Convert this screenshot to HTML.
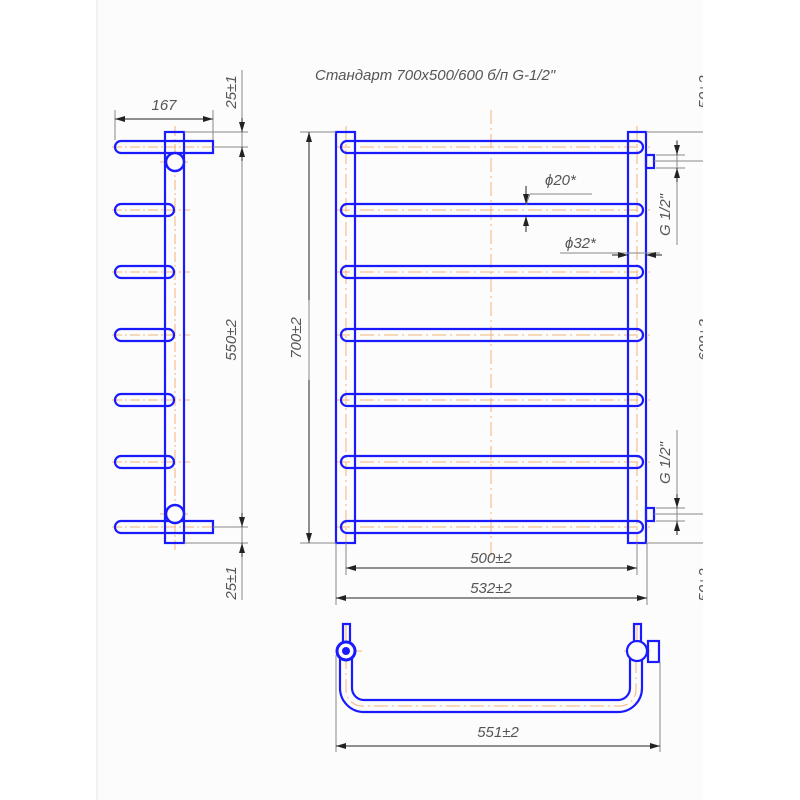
<!DOCTYPE html>
<html><head><meta charset="utf-8"><style>
html,body{margin:0;padding:0;background:#fff;}
svg{display:block;}
text{font-family:"Liberation Sans","DejaVu Sans",sans-serif;font-style:italic;fill:#555;}
</style></head><body>
<svg width="800" height="800" viewBox="0 0 800 800" xmlns="http://www.w3.org/2000/svg">
<rect x="0" y="0" width="800" height="800" fill="#fff"/>
<rect x="97" y="0" width="606" height="800" fill="#fcfcfc"/>
<line x1="97" y1="0" x2="97" y2="800" stroke="#e6e6e6" stroke-width="1"/>
<defs>
<marker id="a" viewBox="0 0 10 6" refX="10" refY="3" markerWidth="10" markerHeight="6" orient="auto-start-reverse" markerUnits="userSpaceOnUse"><path d="M0,0 L10,3 L0,6 Z" fill="#222"/></marker>
</defs>

<text x="315" y="80" font-size="15">Стандарт 700х500/600 б/п  G-1/2"</text>

<!-- LEFT VIEW -->
<g stroke="#f5b37a" stroke-width="1" stroke-dasharray="10,3,2,3" fill="none">
<line x1="175" y1="126" x2="175" y2="552"/>
<line x1="112" y1="147" x2="215" y2="147"/>
<line x1="112" y1="210" x2="190" y2="210"/>
<line x1="112" y1="272" x2="190" y2="272"/>
<line x1="112" y1="335" x2="190" y2="335"/>
<line x1="112" y1="400" x2="190" y2="400"/>
<line x1="112" y1="462" x2="190" y2="462"/>
<line x1="112" y1="527" x2="215" y2="527"/>
<line x1="160" y1="162" x2="190" y2="162"/>
<line x1="160" y1="514" x2="190" y2="514"/>
</g>
<g stroke="#1a1aff" stroke-width="2.2" fill="none">
<rect x="165" y="132" width="19" height="411"/>
<path d="M213,141 H121 a6,6 0 0 0 0,12 H213 Z"/>
<path d="M213,521 H121 a6,6 0 0 0 0,12 H213 Z"/>
<path d="M168,204 H121 a6,6 0 0 0 0,12 H168 a6,6 0 0 0 0,-12"/>
<path d="M168,266 H121 a6,6 0 0 0 0,12 H168 a6,6 0 0 0 0,-12"/>
<path d="M168,329 H121 a6,6 0 0 0 0,12 H168 a6,6 0 0 0 0,-12"/>
<path d="M168,394 H121 a6,6 0 0 0 0,12 H168 a6,6 0 0 0 0,-12"/>
<path d="M168,456 H121 a6,6 0 0 0 0,12 H168 a6,6 0 0 0 0,-12"/>
<circle cx="175" cy="162" r="9" stroke-width="2.5" fill="#fcfcfc"/>
<circle cx="175" cy="514" r="9" stroke-width="2.5" fill="#fcfcfc"/>
</g>
<g stroke="#888" stroke-width="1" fill="none">
<line x1="115" y1="110" x2="115" y2="140"/>
<line x1="213" y1="110" x2="213" y2="140"/>
<line x1="184" y1="132" x2="248" y2="132"/>
<line x1="213" y1="147" x2="248" y2="147"/>
<line x1="213" y1="527" x2="248" y2="527"/>
<line x1="184" y1="543" x2="248" y2="543"/>
<line x1="242" y1="70" x2="242" y2="600"/>
</g>
<g stroke="#222" stroke-width="1">
<line x1="115" y1="119" x2="213" y2="119" marker-start="url(#a)" marker-end="url(#a)"/>
<line x1="242" y1="118" x2="242" y2="132" marker-end="url(#a)"/>
<line x1="242" y1="161" x2="242" y2="147" marker-end="url(#a)"/>
<line x1="242" y1="513" x2="242" y2="527" marker-end="url(#a)"/>
<line x1="242" y1="557" x2="242" y2="543" marker-end="url(#a)"/>
</g>
<text x="164" y="110" font-size="15" text-anchor="middle">167</text>
<text transform="translate(236,92) rotate(-90)" font-size="15" text-anchor="middle">25±1</text>
<text transform="translate(236,340) rotate(-90)" font-size="15" text-anchor="middle">550±2</text>
<text transform="translate(236,583) rotate(-90)" font-size="15" text-anchor="middle">25±1</text>

<!-- FRONT VIEW -->
<g stroke="#f5b37a" stroke-width="1" stroke-dasharray="14,4,2,4" fill="none">
<line x1="491" y1="110" x2="491" y2="560"/>
<line x1="346" y1="126" x2="346" y2="552"/>
<line x1="637" y1="126" x2="637" y2="552"/>
<line x1="336" y1="147" x2="650" y2="147"/>
<line x1="336" y1="210" x2="650" y2="210"/>
<line x1="336" y1="272" x2="650" y2="272"/>
<line x1="336" y1="335" x2="650" y2="335"/>
<line x1="336" y1="400" x2="650" y2="400"/>
<line x1="336" y1="462" x2="650" y2="462"/>
<line x1="336" y1="527" x2="650" y2="527"/>
</g>
<g stroke="#1a1aff" stroke-width="2.2" fill="none">
<rect x="336" y="132" width="19" height="411"/>
<rect x="628" y="132" width="18" height="411"/>
<rect x="646" y="155" width="8" height="13"/>
<rect x="646" y="508" width="8" height="13"/>
<path d="M347,141 H637 a6,6 0 0 1 0,12 H347 a6,6 0 0 1 0,-12"/>
<path d="M347,204 H637 a6,6 0 0 1 0,12 H347 a6,6 0 0 1 0,-12"/>
<path d="M347,266 H637 a6,6 0 0 1 0,12 H347 a6,6 0 0 1 0,-12"/>
<path d="M347,329 H637 a6,6 0 0 1 0,12 H347 a6,6 0 0 1 0,-12"/>
<path d="M347,394 H637 a6,6 0 0 1 0,12 H347 a6,6 0 0 1 0,-12"/>
<path d="M347,456 H637 a6,6 0 0 1 0,12 H347 a6,6 0 0 1 0,-12"/>
<path d="M347,521 H637 a6,6 0 0 1 0,12 H347 a6,6 0 0 1 0,-12"/>
</g>
<g stroke="#888" stroke-width="1" fill="none">
<line x1="300" y1="132" x2="336" y2="132"/>
<line x1="300" y1="543" x2="336" y2="543"/>
<line x1="309" y1="132" x2="309" y2="543"/>
<line x1="346" y1="543" x2="346" y2="575"/>
<line x1="637" y1="543" x2="637" y2="575"/>
<line x1="336" y1="543" x2="336" y2="605"/>
<line x1="647" y1="543" x2="647" y2="605"/>
<line x1="646" y1="132" x2="703" y2="132"/>
<line x1="654" y1="161" x2="703" y2="161"/>
<line x1="654" y1="514" x2="703" y2="514"/>
<line x1="646" y1="543" x2="703" y2="543"/>
<line x1="656" y1="155" x2="685" y2="155"/>
<line x1="656" y1="168" x2="685" y2="168"/>
<line x1="656" y1="508" x2="685" y2="508"/>
<line x1="656" y1="521" x2="685" y2="521"/>
<line x1="677" y1="140" x2="677" y2="245"/>
<line x1="677" y1="430" x2="677" y2="535"/>
<line x1="530" y1="194" x2="592" y2="194"/>
<line x1="530" y1="194" x2="526" y2="205"/>
<line x1="560" y1="253" x2="660" y2="253"/>
</g>
<g stroke="#222" stroke-width="1">
<line x1="309" y1="300" x2="309" y2="132" marker-end="url(#a)"/>
<line x1="309" y1="380" x2="309" y2="543" marker-end="url(#a)"/>
<line x1="346" y1="568" x2="637" y2="568" marker-start="url(#a)" marker-end="url(#a)"/>
<line x1="336" y1="598" x2="647" y2="598" marker-start="url(#a)" marker-end="url(#a)"/>
<line x1="677" y1="141" x2="677" y2="155" marker-end="url(#a)"/>
<line x1="677" y1="182" x2="677" y2="168" marker-end="url(#a)"/>
<line x1="677" y1="494" x2="677" y2="508" marker-end="url(#a)"/>
<line x1="677" y1="535" x2="677" y2="521" marker-end="url(#a)"/>
<line x1="526" y1="186" x2="526" y2="204" marker-end="url(#a)"/>
<line x1="526" y1="232" x2="526" y2="216" marker-end="url(#a)"/>
<line x1="612" y1="255" x2="628" y2="255" marker-end="url(#a)"/>
<line x1="662" y1="255" x2="646" y2="255" marker-end="url(#a)"/>
</g>
<text transform="translate(301,338) rotate(-90)" font-size="15" text-anchor="middle">700±2</text>
<text x="491" y="563" font-size="15" text-anchor="middle">500±2</text>
<text x="491" y="593" font-size="15" text-anchor="middle">532±2</text>
<text x="545" y="185" font-size="15">ϕ20*</text>
<text x="565" y="248" font-size="15">ϕ32*</text>
<text transform="translate(670,215) rotate(-90)" font-size="15" text-anchor="middle">G 1/2"</text>
<text transform="translate(670,463) rotate(-90)" font-size="15" text-anchor="middle">G 1/2"</text>
<text transform="translate(709,340) rotate(-90)" font-size="15" text-anchor="middle">600±3</text>
<text transform="translate(709,92) rotate(-90)" font-size="15" text-anchor="middle">50±2</text>
<text transform="translate(709,585) rotate(-90)" font-size="15" text-anchor="middle">50±2</text>

<!-- BOTTOM VIEW -->
<g stroke="#f5b37a" stroke-width="1" fill="none">
<path d="M346,655 V690 a16,16 0 0 0 16,16 H620 a16,16 0 0 0 16,-16 V655" stroke-dasharray="14,4,2,4"/>
<line x1="346" y1="624" x2="346" y2="668"/>
<line x1="336" y1="651" x2="362" y2="651"/>
<line x1="624" y1="651" x2="650" y2="651"/>
<line x1="637" y1="624" x2="637" y2="640"/>
</g>
<g stroke="#1a1aff" stroke-width="2.2" fill="none">
<rect x="343" y="624" width="7" height="18"/>
<rect x="634" y="624" width="7" height="18"/>
<path d="M340,657 V688 a24,24 0 0 0 24,24 H618 a24,24 0 0 0 24,-24 V657"/>
<path d="M352,657 V688 a12,12 0 0 0 12,12 H618 a12,12 0 0 0 12,-12 V657"/>
<circle cx="346" cy="651" r="9" stroke-width="3" fill="#fcfcfc"/>
<circle cx="346" cy="651" r="4" fill="#1a1aff" stroke="none"/>
<circle cx="637" cy="651" r="10" fill="#fcfcfc"/>
<rect x="648" y="641" width="11" height="21"/>
</g>
<g stroke="#888" stroke-width="1">
<line x1="336" y1="655" x2="336" y2="752"/>
<line x1="660" y1="662" x2="660" y2="752"/>
</g>
<line x1="336" y1="746" x2="660" y2="746" stroke="#222" stroke-width="1" marker-start="url(#a)" marker-end="url(#a)"/>
<text x="498" y="737" font-size="15" text-anchor="middle">551±2</text>

<rect x="703" y="0" width="97" height="800" fill="#fff"/>
</svg>
</body></html>
